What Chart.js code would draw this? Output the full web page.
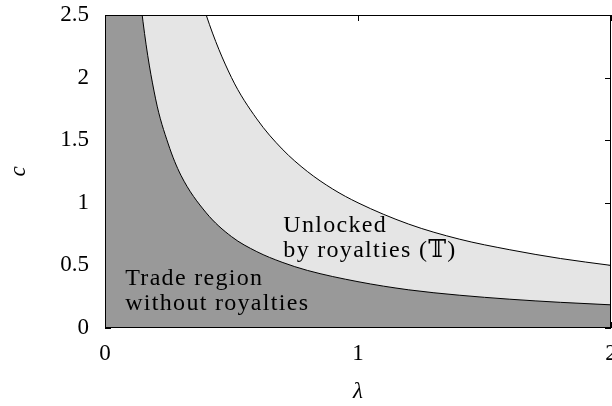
<!DOCTYPE html>
<html>
<head>
<meta charset="utf-8">
<script src="https://cdn.jsdelivr.net/npm/chart.js@4.4.1/dist/chart.umd.min.js"></script>
<style>
html,body{margin:0;padding:0;background:#fff;overflow:hidden;}
#wrap{width:612px;height:406px;}
</style>
</head>
<body>
<div id="wrap"><canvas id="chart" width="612" height="406"></canvas></div>
<script>
// lower boundary: trade region without royalties (values above 2.5 are clipped)
const lambdaLow = [0, 0.06, 0.08, 0.1, 0.12, 0.15, 0.2, 0.25, 0.3, 0.4, 0.5, 0.6, 0.7, 0.8, 1.0, 1.2, 1.4, 1.6, 1.8, 2.0];
const cLow = [6, 6, 4.6, 3.7, 3.05, 2.45, 1.83, 1.47, 1.22, 0.92, 0.73, 0.61, 0.525, 0.46, 0.37, 0.305, 0.262, 0.23, 0.205, 0.185];

// upper boundary: region unlocked by royalties
const lambdaHigh = [0, 0.15, 0.2, 0.25, 0.3, 0.35, 0.4, 0.5, 0.6, 0.7, 0.8, 0.9, 1.0, 1.2, 1.4, 1.6, 1.8, 2.0];
const cHigh = [6, 6, 5, 4, 3.33, 2.86, 2.5, 2.0, 1.67, 1.43, 1.25, 1.11, 1.0, 0.83, 0.71, 0.625, 0.555, 0.5];

const xTicks = [0, 1, 2];
const yTicks = [0, 0.5, 1, 1.5, 2, 2.5];

const regionLabels = [
  {lines:["Trade region","without royalties"], x:0.08, y:0.34},
  {lines:["Unlocked","by royalties (\u{1D54B})"], x:0.705, y:0.77}
];

const FONT = "'Liberation Serif', 'DejaVu Serif', serif";

const pts = (xs, ys) => xs.map((x,i)=>({x:x, y:ys[i]}));

// inward tick marks, drawn before the fills so the fills cover them
const tickMarks = {
  id:"tickMarks",
  beforeDatasetsDraw(chart){
    const {ctx, chartArea:a, scales} = chart;
    ctx.save();
    ctx.strokeStyle = "#000";
    ctx.lineWidth = 1;
    ctx.beginPath();
    xTicks.forEach(v=>{
      const px = Math.round(scales.x.getPixelForValue(v))+0.5;
      ctx.moveTo(px, a.bottom); ctx.lineTo(px, a.bottom-6);
      ctx.moveTo(px, a.top); ctx.lineTo(px, a.top+6);
    });
    yTicks.forEach(v=>{
      const py = Math.round(scales.y.getPixelForValue(v))+0.5;
      ctx.moveTo(a.left, py); ctx.lineTo(a.left+6, py);
      ctx.moveTo(a.right, py); ctx.lineTo(a.right-6, py);
    });
    ctx.stroke();
    ctx.restore();
  },
  afterDatasetsDraw(chart){
    const {ctx, chartArea:a, scales} = chart;
    ctx.save();
    ctx.strokeStyle = "#000";
    ctx.lineWidth = 1;
    ctx.strokeRect(Math.round(a.left)+0.5, Math.round(a.top)+0.5, Math.round(a.right-a.left)-1, Math.round(a.bottom-a.top)-1);
    // region labels
    ctx.fillStyle = "#000";
    ctx.font = "24px " + FONT;
    ctx.letterSpacing = "1.3px";
    ctx.textAlign = "left";
    ctx.textBaseline = "alphabetic";
    regionLabels.forEach(r=>{
      const px = scales.x.getPixelForValue(r.x);
      const py = scales.y.getPixelForValue(r.y);
      r.lines.forEach((t,i)=>ctx.fillText(t, px, py + i*25));
    });
    ctx.restore();
  }
};

new Chart(document.getElementById("chart"), {
  type:"line",
  data:{
    datasets:[
      {
        data: pts(lambdaLow, cLow),
        borderColor:"#000",
        borderWidth:1,
        backgroundColor:"#999999",
        fill:"origin",
        pointRadius:0,
        cubicInterpolationMode:"monotone"
      },
      {
        data: pts(lambdaHigh, cHigh),
        borderColor:"#000",
        borderWidth:1,
        backgroundColor:"#e5e5e5",
        fill:"origin",
        pointRadius:0,
        cubicInterpolationMode:"monotone"
      }
    ]
  },
  options:{
    responsive:false,
    animation:false,
    events:[],
    layout:{padding:{top:15, right:1, bottom:0, left:0}},
    plugins:{legend:{display:false}, tooltip:{enabled:false}},
    scales:{
      x:{
        type:"linear", min:0, max:2,
        afterBuildTicks(s){ s.ticks = xTicks.map(v=>({value:v})); },
        afterFit(s){ s.height = 78; s.paddingRight = 0; s.paddingLeft = 0; },
        grid:{display:false, drawTicks:false},
        border:{display:false},
        ticks:{color:"#000", padding:12, maxRotation:0, font:{family:FONT, size:23}, callback:v=>String(v)},
        title:{display:true, text:"\u03bb", color:"#000", padding:{top:0,bottom:0}, font:{family:FONT, size:23, style:"italic"}}
      },
      y:{
        type:"linear", min:0, max:2.5,
        afterBuildTicks(s){ s.ticks = yTicks.map(v=>({value:v})); },
        afterFit(s){ s.width = 105; s.paddingTop = 0; s.paddingBottom = 0; },
        grid:{display:false, drawTicks:false},
        border:{display:false},
        ticks:{color:"#000", padding:16, font:{family:FONT, size:23}, callback:v=>String(v)},
        title:{display:true, text:"c", color:"#000", padding:{top:5,bottom:0}, font:{family:FONT, size:23, style:"italic"}}
      }
    }
  },
  plugins:[tickMarks]
});
</script>
</body>
</html>
